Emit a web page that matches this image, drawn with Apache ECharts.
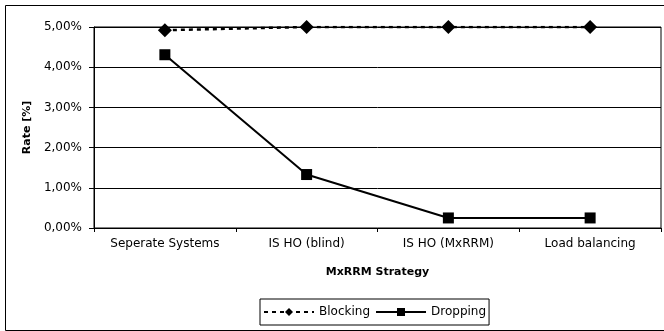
<!DOCTYPE html>
<html><head><meta charset="utf-8">
<script src="https://cdn.jsdelivr.net/npm/echarts@6/dist/echarts.min.js"></script>
<style>html,body{margin:0;padding:0;background:#fff}#c{width:664px;height:331px}</style>
</head><body><div id="c"></div>
<script>
const categories = ['Seperate Systems', 'IS HO (blind)', 'IS HO (MxRRM)', 'Load balancing'];
const blocking = [4.92, 5.0, 5.0, 5.0];
const dropping = [4.31, 1.33, 0.25, 0.25];
const yTicks = { min: 0, max: 5, interval: 1 };
const FONT = 'DejaVu Sans';

const chart = echarts.init(document.getElementById('c'), null, { renderer: 'canvas' });
chart.setOption({
  backgroundColor: '#fff',
  animation: false,
  textStyle: { fontFamily: FONT, color: '#000' },
  graphic: [{
    type: 'rect', left: 3, top: 3, z: 100, silent: true,
    shape: { width: 659, height: 325 },
    style: { fill: 'none', stroke: '#000', lineWidth: 1 }
  }],
  grid: { left: 94, right: 3, top: 27, bottom: 103, show: true, borderColor: '#000', borderWidth: 1, backgroundColor: '#fff' },
  legend: {
    left: 260, top: 299,
    borderColor: '#000', borderWidth: 1, padding: [7, 3, 7, 3],
    itemGap: 5, itemWidth: 50, itemHeight: 10,
    textStyle: { fontFamily: FONT, fontSize: 12, color: '#000' },
    data: ['Blocking', 'Dropping']
  },
  xAxis: {
    type: 'category', data: categories, boundaryGap: true,
    axisLine: { lineStyle: { color: '#000', width: 1 } },
    axisTick: { show: true, interval: 0, length: 4, lineStyle: { color: '#000' } },
    axisLabel: { interval: 0, margin: 10, fontFamily: FONT, fontSize: 12, color: '#000' },
    name: 'MxRRM Strategy', nameLocation: 'middle', nameGap: 39,
    nameTextStyle: { fontFamily: FONT, fontSize: 11, fontWeight: 'bold', color: '#000' }
  },
  yAxis: {
    type: 'value', min: yTicks.min, max: yTicks.max, interval: yTicks.interval,
    axisLine: { show: true, lineStyle: { color: '#000' } },
    axisTick: { show: true, inside: false, length: 5, lineStyle: { color: '#000' } },
    splitLine: { show: true, lineStyle: { color: '#000', width: 1 } },
    axisLabel: { margin: 12, fontFamily: FONT, fontSize: 12, color: '#000',
      formatter: v => v.toFixed(2).replace('.', ',') + '%' },
    name: 'Rate [%]', nameLocation: 'middle', nameGap: 59,
    nameTextStyle: { fontFamily: FONT, fontSize: 11, fontWeight: 'bold', color: '#000' }
  },
  series: [
    {
      name: 'Blocking', type: 'line', data: blocking,
      symbol: 'diamond', symbolSize: 14,
      itemStyle: { color: '#000' },
      lineStyle: { color: '#000', width: 2.5, type: [4, 4] }
    },
    {
      name: 'Dropping', type: 'line', data: dropping,
      symbol: 'rect', symbolSize: 11,
      itemStyle: { color: '#000' },
      lineStyle: { color: '#000', width: 2 }
    }
  ]
});
</script></body></html>
